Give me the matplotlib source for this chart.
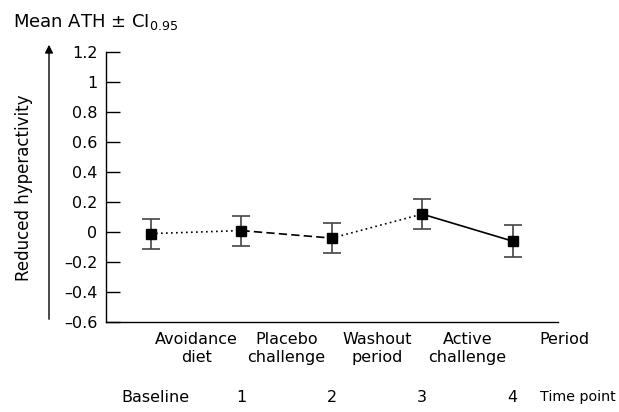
import matplotlib.pyplot as plt
from matplotlib.transforms import blended_transform_factory

# data
time_points = [0, 1, 2, 3, 4]
time_labels = ['Baseline', '1', '2', '3', '4']
means = [-0.01, 0.01, -0.04, 0.12, -0.06]
ci = [0.10, 0.10, 0.10, 0.10, 0.105]
period_pos = [0.5, 1.5, 2.5, 3.5]
period_labels = ['Avoidance\ndiet', 'Placebo\nchallenge', 'Washout\nperiod', 'Active\nchallenge']
y_ticks = [-0.6, -0.4, -0.2, 0, 0.2, 0.4, 0.6, 0.8, 1, 1.2]

plt.rcParams['font.family'] = 'DejaVu Sans'
plt.rcParams['font.size'] = 11.5

fig = plt.figure(figsize=(6.19, 4.12), dpi=100)
ax = fig.add_axes([0.171, 0.218, 0.730, 0.656])

# segments between time points use different line styles
seg_styles = [(0, (1, 2)), (0, (5, 2.5)), (0, (1, 2)), '-']
for i, ls in enumerate(seg_styles):
    ax.plot(time_points[i:i + 2], means[i:i + 2], color='black', lw=1.2, ls=ls)

ax.errorbar(time_points, means, yerr=ci, fmt='none', ecolor='#444444',
            elinewidth=1.2, capsize=6.5, capthick=1.2)
ax.plot(time_points, means, 's', color='black', ms=7.5, zorder=3)

ax.set_xlim(-0.5, 4.5)
ax.set_ylim(-0.6, 1.2)
ax.set_yticks(y_ticks)
ax.set_yticklabels([('\u2013' + f'{abs(v):g}') if v < 0 else f'{v:g}' for v in y_ticks])
ax.tick_params(axis='y', direction='in', length=10, width=1, pad=6, labelsize=11.5)
ax.set_xticks([])
for s in ['top', 'right']:
    ax.spines[s].set_visible(False)
ax.spines['left'].set_linewidth(1)
ax.spines['bottom'].set_linewidth(1)

trans = blended_transform_factory(ax.transData, ax.transAxes)
for x, lab in zip(period_pos, period_labels):
    ax.text(x, -0.035, lab, transform=trans, ha='center', va='top', linespacing=1.3)
ax.text(4.30, -0.035, 'Period', transform=trans, ha='left', va='top')
for x, lab in zip(time_points, time_labels):
    ax.text(x + (0.05 if lab == 'Baseline' else 0), -0.278, lab, transform=trans,
            ha='center', va='center')
ax.text(4.30, -0.278, 'Time point', transform=trans, ha='left', va='center',
        fontsize=10.3)

fig.text(13 / 619, 1 - 22 / 412, 'Mean ATH \u00b1 CI$_{0.95}$', ha='left', va='center',
         fontsize=13)
fig.text(24 / 619, 1 - 188 / 412, 'Reduced hyperactivity', rotation=90,
         ha='center', va='center', fontsize=12)
ax.annotate('', xy=(49, 412 - 42), xytext=(49, 412 - 322),
            xycoords='figure pixels', textcoords='figure pixels',
            arrowprops=dict(arrowstyle='-|>', color='black', lw=1, mutation_scale=12))

fig.savefig('out.png', dpi=100)
